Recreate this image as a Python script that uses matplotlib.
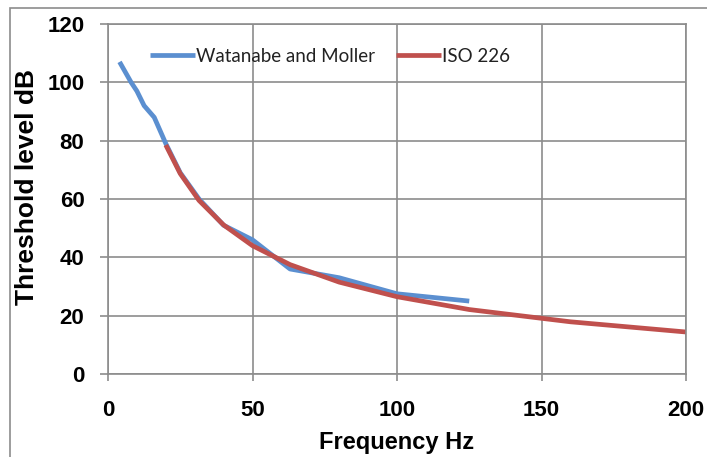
import matplotlib.pyplot as plt
from matplotlib.patches import Rectangle

plt.rcParams['font.family'] = ['Liberation Sans', 'DejaVu Sans']

# Watanabe and Moller threshold data
wm_freq = [4, 8, 10, 12.5, 16, 20, 25, 31.5, 40, 50, 63, 80, 100, 125]
wm_level = [107, 100, 97, 92, 88, 79, 69, 60, 51, 46, 36, 33, 27.5, 25]

# ISO 226 threshold data
iso_freq = [20, 25, 31.5, 40, 50, 63, 80, 100, 125, 160, 200]
iso_level = [78.5, 68.7, 59.5, 51.1, 44.0, 37.5, 31.5, 26.5, 22.1, 17.9, 14.4]

x_ticks = [0, 50, 100, 150, 200]
y_ticks = [0, 20, 40, 60, 80, 100, 120]

fig = plt.figure(figsize=(7.07, 4.57), dpi=100)
ax = fig.add_axes([108 / 707, 1 - 374 / 457, 578 / 707, 350 / 457])

# outer chart border
fig.patches.append(Rectangle((10 / 707, -0.05), 1.0, 1 - 8 / 457 + 0.05,
                             transform=fig.transFigure, fill=False,
                             edgecolor='#8c8c8c', linewidth=1.2))

ax.plot(wm_freq, wm_level, color='#5b8fd0', linewidth=3.4,
        solid_joinstyle='round', solid_capstyle='butt', label='Watanabe and Moller')
ax.plot(iso_freq, iso_level, color='#c0504d', linewidth=3.4,
        solid_joinstyle='round', solid_capstyle='butt', label='ISO 226')

ax.set_xlim(0, 200)
ax.set_ylim(0, 120)
ax.set_xticks(x_ticks)
ax.set_yticks(y_ticks)
ax.tick_params(axis='x', labelsize=16, length=5, width=1.2, color='#8c8c8c', pad=14)
ax.tick_params(axis='y', labelsize=16, length=6, width=1.2, color='#8c8c8c', pad=11)
for lbl in ax.get_xticklabels() + ax.get_yticklabels():
    lbl.set_fontweight('bold')

ax.grid(True, color='#8c8c8c', linewidth=1.2)
ax.set_axisbelow(True)
for s in ax.spines.values():
    s.set_color('#8c8c8c')
    s.set_linewidth(1.2)

ax.set_xlabel('Frequency Hz', fontsize=17, fontweight='bold', labelpad=7)
ax.set_ylabel('Threshold level dB', fontsize=19, fontweight='bold')
ax.yaxis.set_label_coords(-0.12, 0.534)

leg = ax.legend(loc='center left', bbox_to_anchor=(42 / 578, (374 - 56) / 350),
                ncol=2, frameon=False, borderpad=0, borderaxespad=0,
                prop={'family': 'Lato', 'size': 13.5},
                handlelength=2.4, handletextpad=0.06, columnspacing=1.1,
                labelcolor='#222222')

plt.savefig('out.png', dpi=100)
